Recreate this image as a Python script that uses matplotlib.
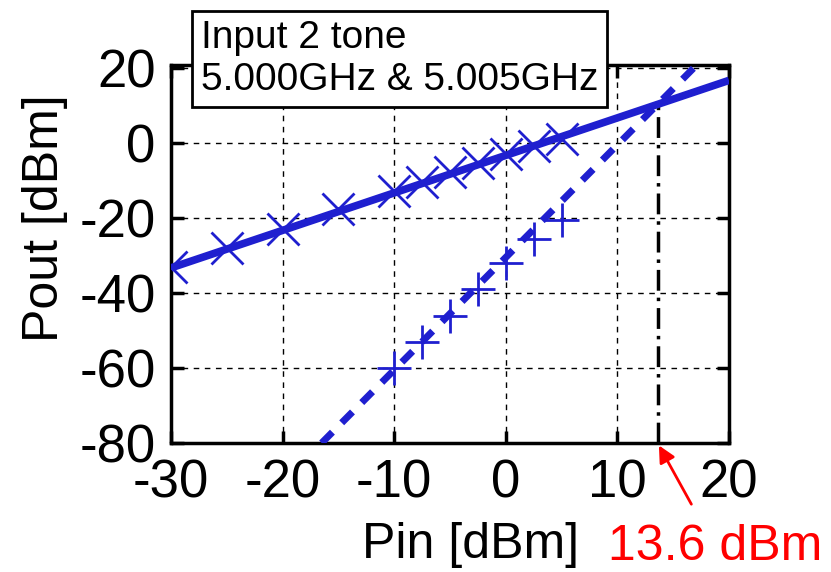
import matplotlib
matplotlib.use("Agg")
import matplotlib.pyplot as plt
import numpy as np

plt.rcParams['font.family'] = ['Liberation Sans', 'DejaVu Sans']
plt.rcParams['axes.unicode_minus'] = False

# fundamental output (x markers)
pin_fund = [-30, -25, -20, -15, -10, -7.5, -5, -2.5, 0, 2.5, 5]
pout_fund = [-33, -28, -23, -17.5, -12.8, -10.3, -7.8, -5.2, -3, -0.8, 1]
# third order intermod (+ markers)
pin_im3 = [-10, -7.5, -5, -2.5, 0, 2.5, 5]
pout_im3 = [-60, -53, -46, -39, -32, -25.5, -20.5]
# fitted lines, slope 1 and slope 3
fit_x = [-30, 20]
fit_fund = [-33.3, 16.7]
fit_im3_x = [-16.5, 17.3]
fit_im3 = [-80, 21.4]
iip3 = 13.6
iip3_pout = 10.3

blue = '#1f1fcf'

fig = plt.figure(figsize=(8.31, 5.72), dpi=100)
ax = fig.add_axes([171/831, 1-443/572, 558/831, 378/572])

ax.plot(fit_x, fit_fund, color=blue, lw=5.5, solid_capstyle='butt', zorder=3)
ax.plot(fit_im3_x, fit_im3, color=blue, lw=5, linestyle=(0, (2.2, 1.9)), zorder=3)
ax.plot(pin_fund, pout_fund, 'x', color=blue, ms=23, mew=2, zorder=4)
ax.plot(pin_im3, pout_im3, '+', color=blue, ms=24, mew=2, zorder=4)
ax.plot([iip3, iip3], [-80, iip3_pout], color='black', lw=2.5,
        linestyle=(0, (6, 2, 1, 2)), zorder=2)

ax.set_xlim(-30, 20)
ax.set_ylim(-80, 20.8)
ax.set_xticks([-30, -20, -10, 0, 10, 20])
ax.set_yticks([-80, -60, -40, -20, 0, 20])
ax.grid(True, color='black', linestyle=(0, (4, 4)), lw=1)
ax.tick_params(direction='in', length=9, width=2.5, labelsize=38, pad=11,
               top=True, right=True)
for s in ax.spines.values():
    s.set_linewidth(2.5)

fig.text(45/831, 1-218/572, 'Pout [dBm]', rotation=90, fontsize=36,
         ha='center', va='center')
fig.text(471/831, 1-545/572, 'Pin [dBm]', fontsize=36, ha='center', va='center')

fig.text(201/831, 1-59/572, 'Input 2 tone\n5.000GHz & 5.005GHz', fontsize=28,
         ha='left', va='center', linespacing=1.22,
         bbox=dict(boxstyle='square,pad=0.22', fc='white', ec='black', lw=2))

ax.annotate('13.6 dBm', xy=(iip3, -80), xycoords='data',
            xytext=(715/831, 1-547/572), textcoords='figure fraction',
            color='red', fontsize=36, ha='center', va='center',
            arrowprops=dict(arrowstyle='-|>', color='red', lw=2,
                            mutation_scale=25, shrinkA=14, shrinkB=2))

fig.savefig('out.png', dpi=100)
